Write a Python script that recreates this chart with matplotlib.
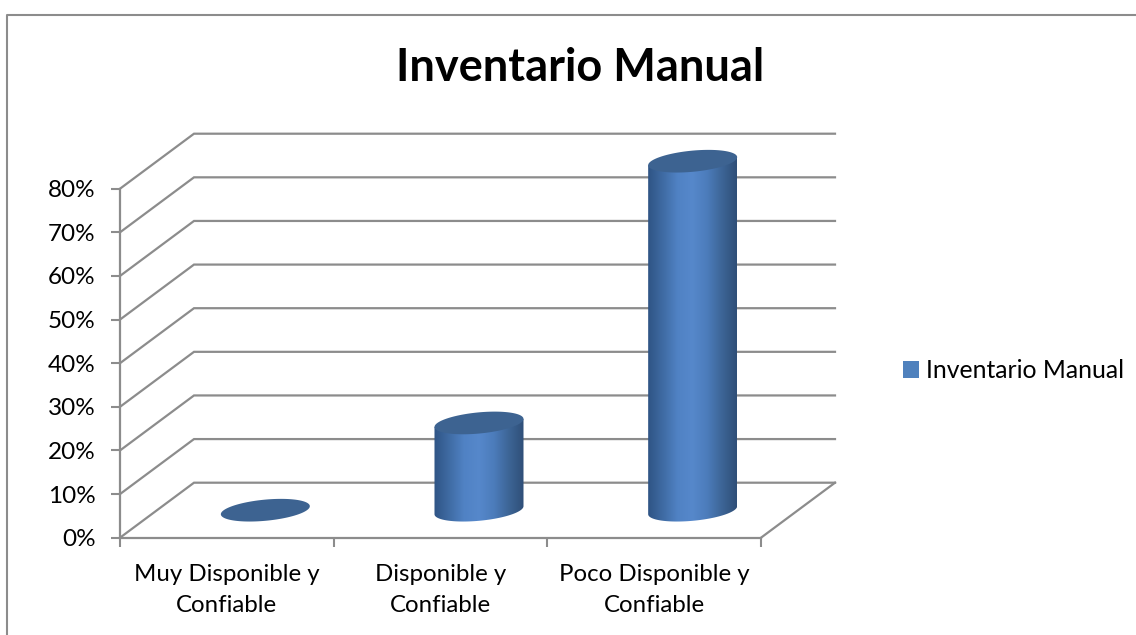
import matplotlib.pyplot as plt
from matplotlib.colors import LinearSegmentedColormap
from matplotlib.lines import Line2D
from matplotlib.patches import Patch, Polygon
import numpy as np

plt.rcParams['font.family'] = ['Lato', 'DejaVu Sans']

# datos
categories = ['Muy Disponible y\nConfiable', 'Disponible y\nConfiable', 'Poco Disponible y\nConfiable']
values = [0, 20, 80]
y_ticks = [0, 10, 20, 30, 40, 50, 60, 70, 80]
title = 'Inventario Manual'

# colores
grid_color = '#8c8c8c'
top_color = '#3d6391'
legend_color = '#4f81bd'
body_cmap = LinearSegmentedColormap.from_list(
    'cyl', ['#2f5485', '#3f6ba3', '#5082c4', '#5688cb', '#4c7cbb', '#3d6596', '#2f4f78'])

W, H = 1136, 635
fig = plt.figure(figsize=(W / 100, H / 100), dpi=100, facecolor='white')
ax = fig.add_axes([120 / W, 1 - 537.7 / H, 641 / W, 349 / H])
ax.set_facecolor('none')

# profundidad de la caja 3D en unidades de datos
dx = 74 * 3 / 641
dy = 55 * 10 / 43.625

# marco del grafico
fig.add_artist(Line2D([7 / W, 7 / W, 1], [0, 1 - 15 / H, 1 - 15 / H], color=grid_color, lw=1.5))

# rejilla: paredes lateral y del fondo
for v in y_ticks:
    ax.plot([0, dx, 3 + dx], [v, v + dy, v + dy], color=grid_color, lw=1.6, clip_on=False, zorder=1,
            solid_joinstyle='miter')
ax.plot([3, 3 + dx], [0, dy], color=grid_color, lw=1.6, clip_on=False, zorder=1)

# cilindros
half_w = 44.5 * 3 / 641
ell_b = 2.43
slope = 0.92
t = np.linspace(0, 2 * np.pi, 121)

for i, val in enumerate(values):
    cx = i + 0.5 + dx / 2 + 0.007
    base = dy / 2
    ex = half_w * np.cos(t)
    ey = slope * np.cos(t) + ell_b * np.sin(t)
    if val > 0:
        # arco inferior, lado derecho y lado izquierdo
        low = t[60:121]
        bx = cx + half_w * np.cos(low)
        by = base + slope * np.cos(low) + ell_b * np.sin(low)
        outline = np.vstack([
            np.column_stack([bx, by]),
            [cx + half_w, base + val + slope],
            [cx - half_w, base + val - slope],
        ])
        body = Polygon(outline, closed=True, facecolor='none', edgecolor='none', clip_on=False)
        ax.add_patch(body)
        im = ax.imshow(np.linspace(0, 1, 256).reshape(1, -1), cmap=body_cmap, aspect='auto',
                       extent=[cx - half_w, cx + half_w, base - 4, base + val + 4], zorder=3)
        im.set_clip_box(fig.bbox)
        im.set_clip_path(body)
    ax.fill(cx + ex, base + val + ey, color=top_color, lw=0, clip_on=False, zorder=4)

# ejes
ax.set_xlim(0, 3)
ax.set_ylim(0, 80)
ax.set_xticks([0, 1, 2, 3])
ax.set_xticklabels([])
ax.set_xticks([0.5, 1.5, 2.5], categories, minor=True, linespacing=1.6)
ax.set_yticks(y_ticks, [f'{v}%' for v in y_ticks])
ax.tick_params(axis='x', which='major', length=6.5, width=1.5, color=grid_color)
ax.tick_params(axis='x', which='minor', length=0, pad=19, labelsize=17.3, labelcolor='black')
ax.tick_params(axis='y', length=6.5, width=1.5, color=grid_color, pad=11, labelsize=17.5, labelcolor='black')
for side in ['top', 'right']:
    ax.spines[side].set_visible(False)
for side in ['left', 'bottom']:
    ax.spines[side].set_color(grid_color)
    ax.spines[side].set_linewidth(1.6)

# titulo y leyenda
fig.text(580 / W, 1 - 68 / H, title, fontsize=32.5, fontweight='bold', ha='center', va='center', color='black')
fig.legend(handles=[Patch(facecolor=legend_color, edgecolor='none', label=title)],
           loc='center left', bbox_to_anchor=(903 / W, 1 - 370.5 / H), frameon=False, fontsize=17.8,
           handlelength=0.66, handleheight=0.66, handletextpad=0.28, borderpad=0, borderaxespad=0)

fig.savefig('out.png', dpi=100, facecolor='white')
